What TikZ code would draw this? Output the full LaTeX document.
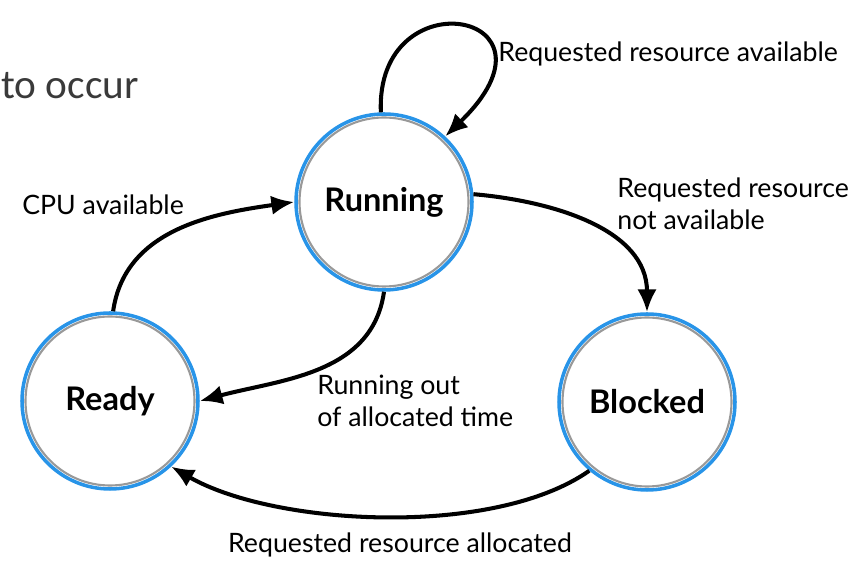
\documentclass[tikz,border=0pt]{standalone}
\usepackage{fontspec}
\setmainfont{Lato}
\newfontfamily\slidefont{Carlito}
\usetikzlibrary{arrows.meta,positioning}
\definecolor{ringblue}{RGB}{40,148,232}
\definecolor{slidegray}{RGB}{58,58,58}
\tikzset{
  state/.style = {circle, draw=ringblue, line width=2pt, fill=white,
                  minimum size=3.52cm, font=\fontsize{18.5}{22}\selectfont\bfseries,
                  path picture={\draw[black!40, line width=1.2pt]
                    (path picture bounding box.center) circle[radius=1.69cm];}},
  note/.style  = {font=\fontsize{15.2}{18.4}\selectfont, align=left, anchor=west,
                  inner sep=0pt},
  move/.style  = {-{Latex[length=13pt,width=11pt]}, line width=2.3pt}
}

\begin{document}
\begin{tikzpicture}[on grid]
  \useasboundingbox (0,0) rectangle (17.2,11.52);

  % the three states
  \node[state] (run) at (7.68,7.48) {Running};
  \node[state, below left=3.98cm and 5.48cm of run] (rdy) {Ready};
  \node[state, below right=4.0cm and 5.26cm of run] (blk) {Blocked};

  % transitions between the states
  \draw[move] (run.92) .. controls (7.5,12.0) and (11.5,11.3) .. (run.47);
  \draw[move] (rdy.88) to[out=82,in=188] (run.180);
  \draw[move] (run.5) to[out=-5,in=90] (blk.90);
  \draw[move] (run.270) to[out=262,in=15] (rdy.0);
  \draw[move] (blk.230) to[out=215,in=330,looseness=0.72] (rdy.313);

  % labels of the transitions
  \node[note] (lavail) at (9.96,10.44) {Requested resource available};
  \node[note] (lcpu) at (0.44,7.42) {CPU available};
  \node[note] (lnot) at (12.34,7.44) {Requested resource\\not available};
  \node[note] (lout) at (6.34,3.50) {Running out\\of allocated time};
  \node[note, anchor=center] (lalloc) at (8.0,0.62) {Requested resource allocated};

  % slide text at the top left
  \node[note, font=\slidefont\fontsize{23.5}{27}\selectfont, text=slidegray]
    (occur) at (0.02,9.80) {to occur};
\end{tikzpicture}
\end{document}
